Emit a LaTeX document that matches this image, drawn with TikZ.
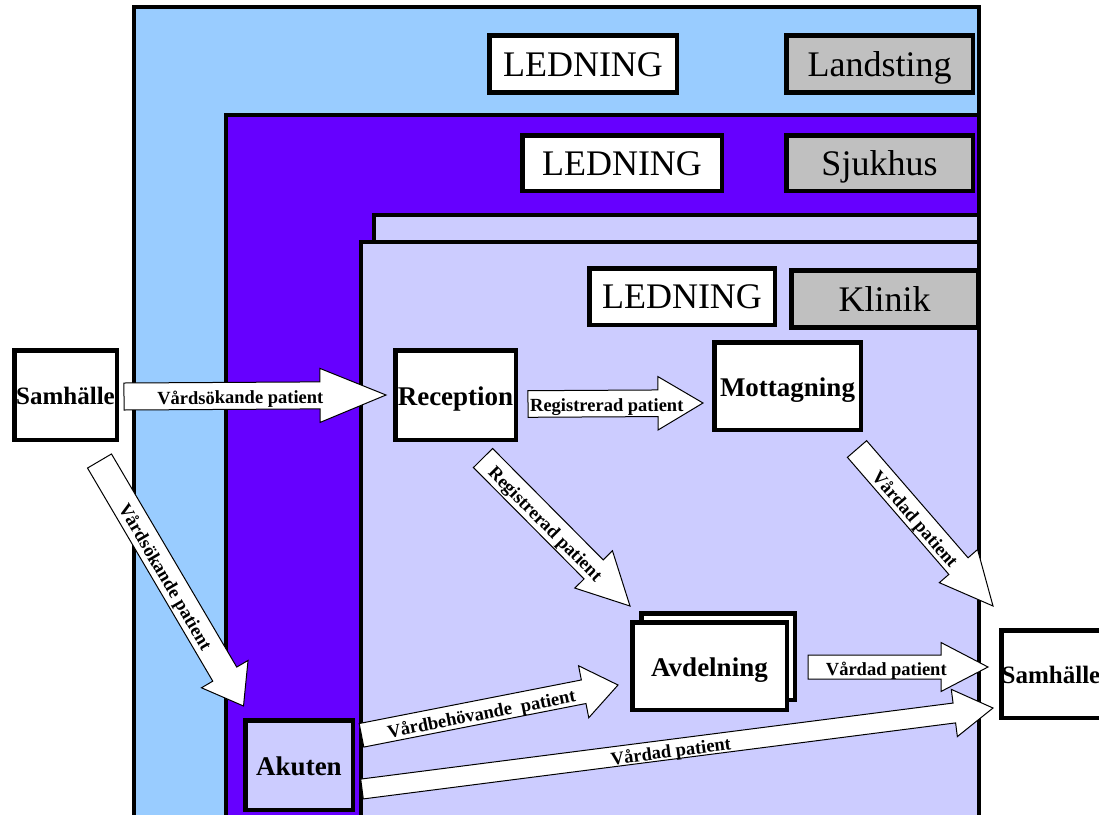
\documentclass[tikz,border=0pt]{standalone}
\usepackage{fontspec}
\setmainfont{Liberation Serif}
\usetikzlibrary{calc}

\definecolor{landblue}{HTML}{99CCFF}
\definecolor{hospurple}{HTML}{6600FF}
\definecolor{clinlav}{HTML}{CCCCFF}
\definecolor{tagrey}{HTML}{C0C0C0}

\tikzset{
  region/.style={draw=black, line width=4pt},
  headbox/.style={draw=black, line width=4.5pt, fill=white, inner sep=0pt,
    minimum height=57pt, text height=24pt, text depth=0pt,
    font=\fontsize{36}{40}\selectfont},
  levelbox/.style={headbox, fill=tagrey},
  unitbox/.style={draw=black, line width=4.5pt, fill=white, inner sep=0pt,
    text height=20pt, text depth=0pt,
    font=\bfseries\fontsize{27}{30}\selectfont},
  societybox/.style={unitbox, text height=18.5pt,
    font=\bfseries\fontsize{25}{28}\selectfont},
  flowarrow/.style={draw=black, line width=1pt, fill=white, line join=miter},
  flowlabel/.style={inner sep=0pt, text height=16pt, text depth=0pt,
    font=\bfseries\fontsize{18.5}{20}\selectfont},
}

% block arrow: start, tip, shaft half width, head half width, head length, label pos, label
\newcommand\blockarrow[7]{%
  \coordinate (bah) at ($(#2)!#5!(#1)$);
  \draw[flowarrow] ($(#1)!#3!90:(#2)$) -- ($(bah)!#3!90:(#2)$) -- ($(bah)!#4!90:(#2)$)
    -- (#2) -- ($(bah)!#4!-90:(#2)$) -- ($(bah)!#3!-90:(#2)$) -- ($(#1)!#3!-90:(#2)$) -- cycle;
  \path (#1) -- (#2) node[pos=#6, sloped, flowlabel] {#7};
}

\begin{document}
\begin{tikzpicture}[x=1pt, y=-1pt]
  \useasboundingbox (0,0) rectangle (1099,814);
  \clip (0,0) rectangle (1099,814);

  % nested organisation levels
  \draw[region, fill=landblue]  (134,7)   rectangle (979,840);
  \draw[region, fill=hospurple] (226,115) rectangle (979,840);
  \draw[region, fill=clinlav]   (374,215) rectangle (979,840);
  \draw[region, fill=clinlav]   (361,242) rectangle (979,840);

  % management and level tags
  \node[headbox, minimum width=187.5pt]  (led1) at (583,64)    {LEDNING};
  \node[levelbox, minimum width=186.5pt] (land) at (879.5,64)  {Landsting};
  \node[headbox, minimum width=199.5pt, minimum height=55.5pt]  (led2) at (622,163)  {LEDNING};
  \node[levelbox, minimum width=186.5pt, minimum height=55.5pt] (sjuk) at (879.5,163) {Sjukhus};
  \node[headbox, minimum width=185.5pt, minimum height=56.5pt]  (led3) at (682,296.5) {LEDNING};
  \node[levelbox, minimum width=186.5pt] (klin) at (884.5,299) {Klinik};

  % units
  \node[societybox, minimum width=102.5pt, minimum height=89.5pt] (samL) at (65.5,395)  {Samhälle};
  \node[unitbox, minimum width=120.5pt, minimum height=89.5pt] (rec)  at (455.5,395) {Reception};
  \node[unitbox, minimum width=146.5pt, minimum height=87.5pt] (mot)  at (787.5,386) {Mottagning};
  \node[unitbox, minimum width=153.5pt, minimum height=86.5pt] (avdB) at (718,656.5) {};
  \node[unitbox, minimum width=154.5pt, minimum height=87.5pt] (avd)  at (709.5,666) {Avdelning};
  \node[unitbox, fill=clinlav, minimum width=107.5pt, minimum height=89.5pt] (aku) at (299,765) {Akuten};
  \node[societybox, minimum width=99.5pt, minimum height=87.5pt]  (samR) at (1051,674)  {Samhälle};

  % arrow end points
  \coordinate (a1s) at ($(samL.east)+(5,1.5)$);
  \coordinate (a1e) at ($(rec.west)+(-7,0)$);
  \coordinate (a2s) at ($(rec.east)+(10,9)$);
  \coordinate (a2e) at ($(mot.west)+(-9,17)$);
  \coordinate (a3s) at ($(rec.south)+(27.5,16)$);
  \coordinate (a3e) at ($(avdB.north west)+(-9,-5)$);
  \coordinate (a4s) at ($(mot.south)+(69.5,17)$);
  \coordinate (a4e) at ($(samR.north west)+(-6,-22)$);
  \coordinate (a5s) at ($(samL.south)+(34,19)$);
  \coordinate (a5e) at ($(aku.north west)+(0.5,-12)$);
  \coordinate (a6s) at ($(aku.east)+(6.5,-29.7)$);
  \coordinate (a6e) at ($(avd.west)+(-12,19)$);
  \coordinate (a7s) at ($(avd.east)+(19,1)$);
  \coordinate (a7e) at ($(samR.west)+(-11,-7)$);
  \coordinate (a8s) at ($(aku.east)+(7,24)$);
  \coordinate (a8e) at ($(samR.west)+(-6,34)$);

  % patient flows
  \blockarrow{a1s}{a1e}{13.5pt}{27pt}{66pt}{0.444}{Vårdsökande patient}
  \blockarrow{a2s}{a2e}{13.3pt}{26.7pt}{45pt}{0.45}{Registrerad patient}
  \blockarrow{a3s}{a3e}{13.5pt}{26.5pt}{51.6pt}{0.435}{Registrerad patient}
  \blockarrow{a4s}{a4e}{12.7pt}{25.3pt}{52.8pt}{0.438}{Vårdad patient}
  \blockarrow{a5s}{a5e}{13.9pt}{27pt}{37pt}{0.469}{Vårdsökande patient}
  \blockarrow{a6s}{a6e}{12pt}{26.5pt}{35pt}{0.466}{Vårdbehövande\ \ patient}
  \blockarrow{a7s}{a7e}{12pt}{24.5pt}{47pt}{0.435}{Vårdad patient}
  \blockarrow{a8s}{a8e}{10pt}{23.8pt}{39pt}{0.489}{Vårdad patient}
\end{tikzpicture}
\end{document}
